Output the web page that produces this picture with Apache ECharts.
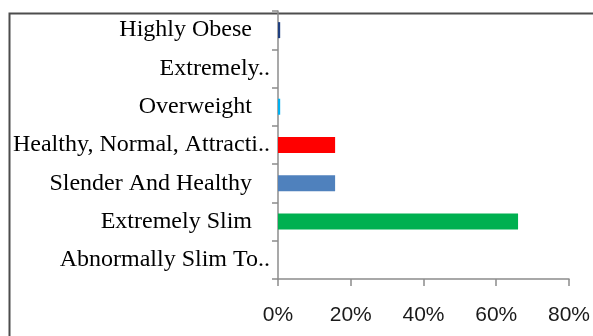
<!DOCTYPE html>
<html>
<head>
<meta charset="utf-8">
<script src="https://cdn.jsdelivr.net/npm/echarts@6/dist/echarts.min.js"></script>
<style>
  html, body { margin: 0; padding: 0; background: #fff; }
  #chart { width: 593px; height: 336px; }
</style>
</head>
<body>
<div id="chart"></div>
<script>
// Body-image categories, listed bottom to top as they appear on the axis
var categories = [
  'Abnormally Slim To..',
  'Extremely Slim',
  'Slender And Healthy',
  'Healthy, Normal, Attracti..',
  'Overweight',
  'Extremely..',
  'Highly Obese'
];
// Share of responses (%)
var shares = [0, 66, 15.7, 15.7, 0.6, 0, 0.6];
// X axis ticks (%)
var tickValues = [0, 20, 40, 60, 80];

var barColors = ['#00b050', '#00b050', '#4f81bd', '#ff0000', '#00b0f0', '#1f3f7f', '#1f3f7f'];

var chart = echarts.init(document.getElementById('chart'), null, { renderer: 'canvas' });

chart.setOption({
  animation: false,
  backgroundColor: '#ffffff',
  grid: { left: 278, right: 22, top: 11, bottom: 57, containLabel: false },
  graphic: [{
    type: 'rect',
    left: 7, top: 11,
    shape: { width: 620, height: 400 },
    style: { fill: 'none', stroke: '#4d4d4d', lineWidth: 2 },
    silent: true, z: 0
  }],
  xAxis: {
    type: 'value',
    min: tickValues[0],
    max: tickValues[tickValues.length - 1],
    interval: tickValues[1] - tickValues[0],
    axisLine: { show: true, lineStyle: { color: '#8c8c8c', width: 1.5 } },
    axisTick: { show: true, length: 7, lineStyle: { color: '#8c8c8c', width: 1.5 } },
    splitLine: { show: false },
    axisLabel: {
      margin: 26,
      color: '#1a1a1a',
      fontFamily: 'Liberation Sans',
      fontSize: 21,
      formatter: function (v) { return v + '%'; }
    }
  },
  yAxis: {
    type: 'category',
    data: categories,
    axisLine: { show: true, lineStyle: { color: '#8c8c8c', width: 1.5 } },
    axisTick: { show: true, length: 6, lineStyle: { color: '#8c8c8c', width: 1.5 } },
    axisLabel: {
      margin: 8,
      color: '#000',
      fontFamily: 'Liberation Serif',
      fontSize: 24,
      formatter: function (v) {
        return /\.\.$/.test(v) ? '{t|' + v + '}' : '{p|' + v + '}';
      },
      rich: {
        t: { fontFamily: 'Liberation Serif', fontSize: 24, color: '#000' },
        p: { fontFamily: 'Liberation Serif', fontSize: 24, color: '#000', padding: [0, 18, 0, 0] }
      }
    }
  },
  series: [{
    type: 'bar',
    barWidth: 16,
    data: shares.map(function (v, i) {
      return { value: v, itemStyle: { color: barColors[i] } };
    })
  }]
});
</script>
</body>
</html>
